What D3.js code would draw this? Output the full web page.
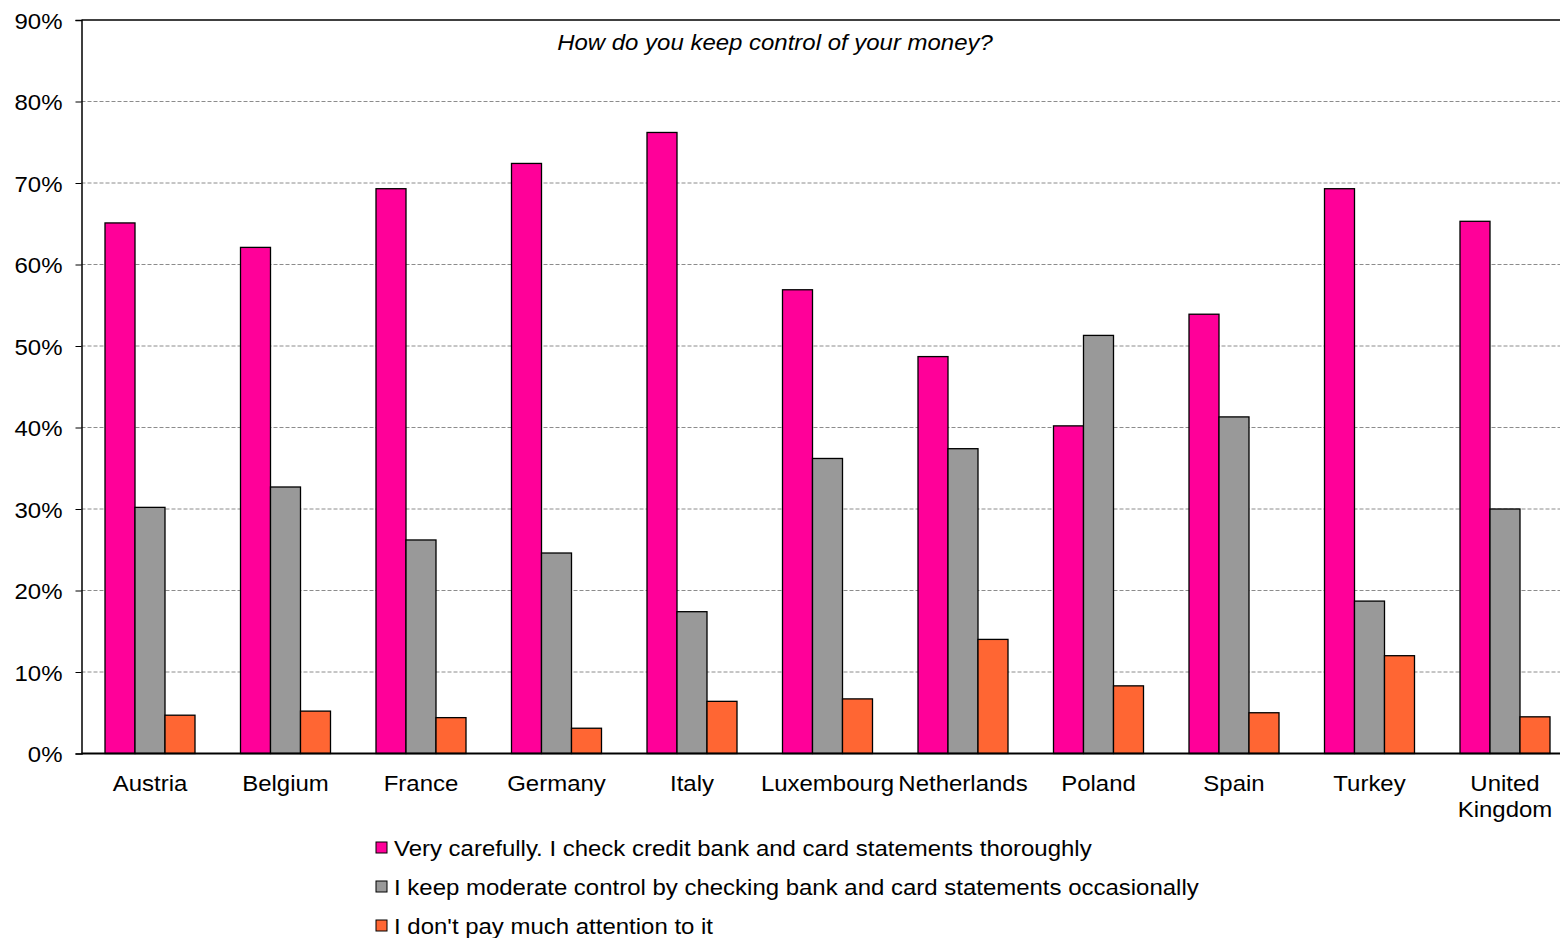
<!DOCTYPE html>
<html>
<head>
<meta charset="utf-8">
<script src="https://cdn.jsdelivr.net/npm/d3@7"></script>
<style>
  html, body { margin: 0; padding: 0; background: #fff; }
  svg { display: block; font-family: "Liberation Sans", Arial, sans-serif; }
</style>
</head>
<body>
<svg id="chart" width="1560" height="938"></svg>
<script>
// Survey: how respondents keep control of their money, by country (share of respondents, %)
const countries = ["Austria", "Belgium", "France", "Germany", "Italy", "Luxembourg",
  "Netherlands", "Poland", "Spain", "Turkey", "United Kingdom"];
const seriesNames = [
  "Very carefully. I check credit bank and card statements thoroughly",
  "I keep moderate control by checking bank and card statements occasionally",
  "I don't pay much attention to it"
];
const veryCarefully = [65.1, 62.1, 69.3, 72.4, 76.2, 56.9, 48.7, 40.2, 53.9, 69.3, 65.3];
const moderateControl = [30.2, 32.7, 26.2, 24.6, 17.4, 36.2, 37.4, 51.3, 41.3, 18.7, 30.0];
const noAttention = [4.7, 5.2, 4.4, 3.1, 6.4, 6.7, 14.0, 8.3, 5.0, 12.0, 4.5];
const seriesColors = ["#FF0099", "#999999", "#FF6633"];
const yTicks = [0, 10, 20, 30, 40, 50, 60, 70, 80, 90];
const chartTitle = "How do you keep control of your money?";

const seriesValues = [veryCarefully, moderateControl, noAttention];
const rows = countries.map((c, i) => ({
  country: c,
  values: seriesNames.map((s, k) => ({ series: s, value: seriesValues[k][i], color: seriesColors[k] }))
}));

const svg = d3.select("#chart");
const plotLeft = 81.5, plotTop = 20, plotBottom = 753.5, bandW = 135.5;
const FONT = 22, WIDEN = 1.09;   // text is set slightly wide

// place a text element at (x, y) with a horizontal stretch around its anchor
function placeText(sel, x, yPos) {
  sel.attr("x", 0).attr("y", 0)
    .attr("transform", `translate(${x},${yPos}) scale(${WIDEN},1)`);
  return sel;
}

const x0 = d3.scaleBand().domain(countries)
  .range([82.25, 82.25 + bandW * countries.length]).paddingInner(0).paddingOuter(0);
const x1 = d3.scaleBand().domain(seriesNames)
  .range([bandW / 2 - 45, bandW / 2 + 45]).padding(0);
const y = d3.scaleLinear().domain([0, 90]).range([plotBottom, plotTop]);

// dashed gridlines
svg.append("g").selectAll("line")
  .data(yTicks.filter(t => t > 0 && t < 90))
  .join("line")
  .attr("x1", plotLeft).attr("x2", 1560)
  .attr("y1", d => y(d)).attr("y2", d => y(d))
  .attr("stroke", "#8c8c8c").attr("stroke-width", 1)
  .attr("stroke-dasharray", "4,2");

// top border of plot area
svg.append("line")
  .attr("x1", plotLeft).attr("x2", 1560).attr("y1", y(90)).attr("y2", y(90))
  .attr("stroke", "#000").attr("stroke-width", 1.5);

// y axis
const yAxis = d3.axisLeft(y).tickValues(yTicks).tickFormat(d => d + "%")
  .tickSize(6).tickPadding(12);
const ya = svg.append("g").attr("transform", `translate(${plotLeft},0)`).call(yAxis);
ya.select(".domain").attr("stroke", "#000").attr("stroke-width", 1.5);
ya.selectAll(".tick line").attr("stroke", "#000").attr("stroke-width", 1);
ya.selectAll(".tick text")
  .attr("font-size", FONT).attr("fill", "#000")
  .attr("font-family", "'Liberation Sans', Arial, sans-serif")
  .attr("dy", null)
  .each(function () { placeText(d3.select(this), -19, 8); });

// bars
const groups = svg.append("g").selectAll("g")
  .data(rows).join("g")
  .attr("transform", d => `translate(${x0(d.country)},0)`);
groups.selectAll("rect")
  .data(d => d.values).join("rect")
  .attr("x", d => x1(d.series))
  .attr("width", x1.bandwidth())
  .attr("y", d => y(d.value))
  .attr("height", d => y(0) - y(d.value))
  .attr("fill", d => d.color)
  .attr("stroke", "#000").attr("stroke-width", 1.3);

// x axis baseline
svg.append("line")
  .attr("x1", plotLeft).attr("x2", 1560).attr("y1", y(0)).attr("y2", y(0))
  .attr("stroke", "#000").attr("stroke-width", 2);

// category labels (two-word names wrap onto two lines)
const catG = svg.append("g");
countries.forEach(c => {
  const cx = x0(c) + x0.bandwidth() / 2;
  const parts = c === "United Kingdom" ? c.split(" ") : [c];
  parts.forEach((p, i) => {
    placeText(catG.append("text"), cx, 791 + i * 26)
      .attr("text-anchor", "middle")
      .attr("font-size", FONT).attr("fill", "#000")
      .text(p);
  });
});

// chart title
placeText(svg.append("text"), 775, 50)
  .attr("text-anchor", "middle")
  .attr("font-size", FONT).attr("font-style", "italic").attr("fill", "#000")
  .text(chartTitle);

// legend
const legend = svg.append("g");
seriesNames.forEach((s, i) => {
  const cy = 848 + i * 39;
  legend.append("rect")
    .attr("x", 376).attr("y", cy - 6).attr("width", 11).attr("height", 11)
    .attr("fill", seriesColors[i]).attr("stroke", "#000").attr("stroke-width", 1);
  placeText(legend.append("text"), 394, cy + 8)
    .attr("font-size", FONT).attr("fill", "#000")
    .text(s);
});
</script>
</body>
</html>
